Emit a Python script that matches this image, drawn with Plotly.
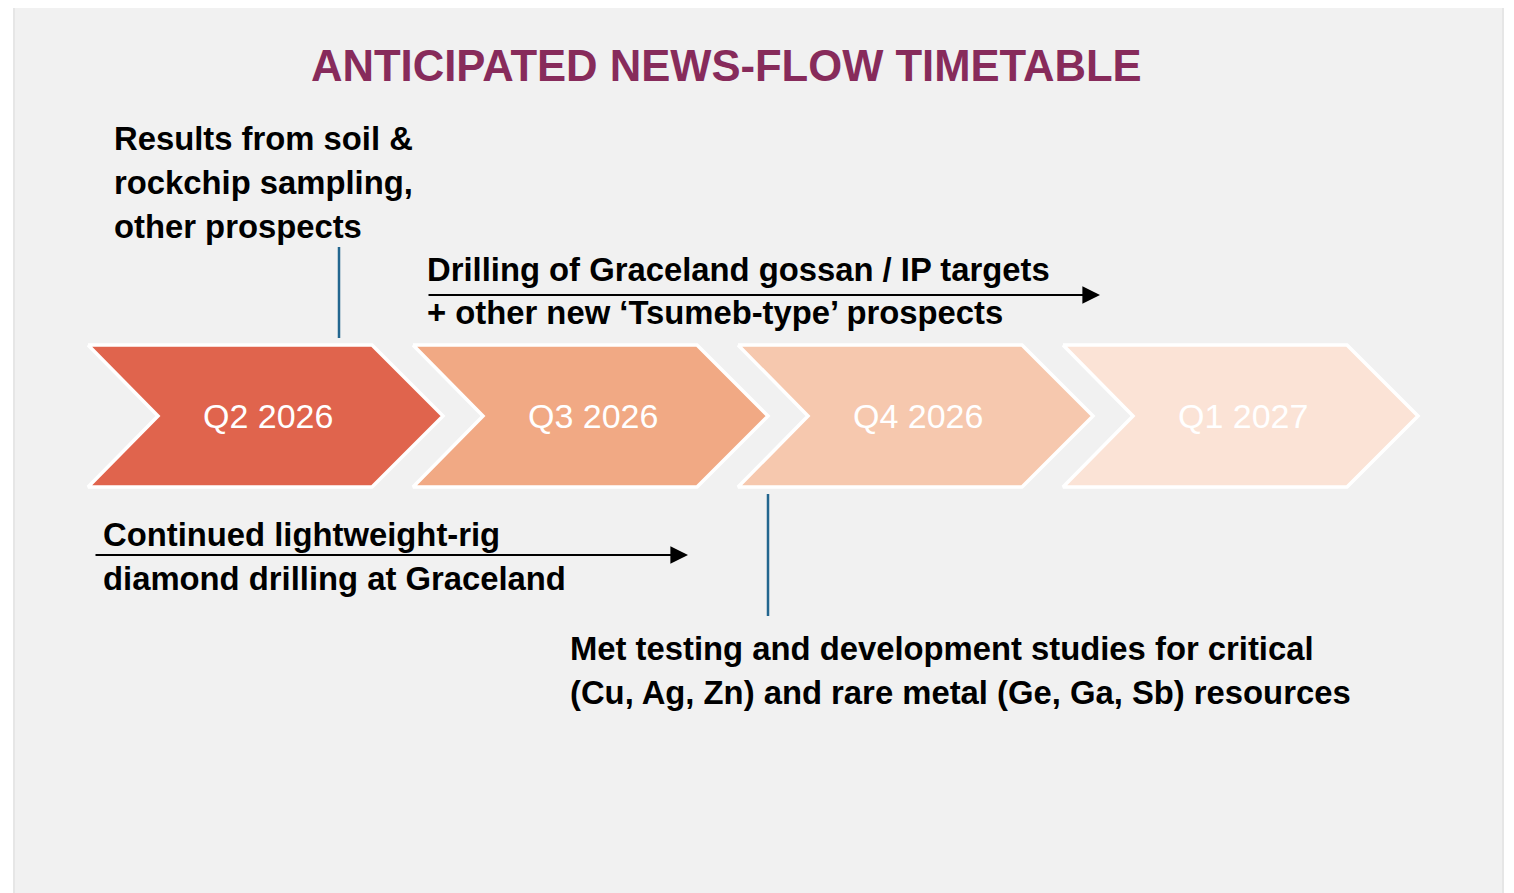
import plotly.graph_objects as go

# ---- data ----
quarters = ["Q2 2026", "Q3 2026", "Q4 2026", "Q1 2027"]
quarter_colors = ["#E0644D", "#F1A984", "#F6C8AE", "#FBE3D6"]
title_text = "ANTICIPATED NEWS-FLOW TIMETABLE"

note_top_left = ["Results from soil &", "rockchip sampling,", "other prospects"]
note_top_right = ["Drilling of Graceland gossan / IP targets", "+ other new \u2018Tsumeb-type\u2019 prospects"]
note_bottom_left = ["Continued lightweight-rig", "diamond drilling at Graceland"]
note_bottom_right = ["Met testing and development studies for critical",
                     "(Cu, Ag, Zn) and rare metal (Ge, Ga, Sb) resources"]

W, H = 1514, 893
OFF = 8  # page body margin
fig = go.Figure()

# panel background
fig.add_shape(type="rect", xref="x", yref="y", x0=14, x1=1503, y0=4, y1=898,
              fillcolor="#F1F1F1", line=dict(color="#E6E6E6", width=2), layer="below")

# chevrons
left0, step = 88, 325
top, bot, mid = 345, 487, 416
for i, (q, c) in enumerate(zip(quarters, quarter_colors)):
    L = left0 + i * step
    xs = [L, L + 284, L + 355, L + 284, L, L + 70, L]
    ys = [top, top, mid, bot, bot, mid, top]
    fig.add_trace(go.Scatter(x=xs, y=ys, mode="lines", fill="toself", fillcolor=c,
                             line=dict(color="white", width=3.5), hoverinfo="skip",
                             showlegend=False))
    fig.add_annotation(x=L + 180, y=mid, text=q, showarrow=False, xanchor="center",
                       yanchor="middle",
                       font=dict(family="Liberation Sans, Arial", size=34, color="white"))

# title
fig.add_annotation(x=726, y=66, text="<b>" + title_text + "</b>", showarrow=False,
                   xanchor="center", yanchor="middle",
                   font=dict(family="Liberation Sans, Arial", size=43.6, color="#872B5B"))

note_font = dict(family="Liberation Sans, Arial", size=32.8, color="black")


def add_lines(lines, x, y0, dy):
    for k, t in enumerate(lines):
        fig.add_annotation(x=x, y=y0 + k * dy, text="<b>" + t + "</b>", showarrow=False,
                           xanchor="left", yanchor="middle", font=note_font)


add_lines(note_top_left, 112, 138, 44)
add_lines(note_top_right, 425, 269, 43)
add_lines(note_bottom_left, 101, 534, 44)
add_lines(note_bottom_right, 568, 648, 44)

# blue connector lines
fig.add_shape(type="line", x0=339, x1=339, y0=247, y1=338, line=dict(color="#23668F", width=2.5))
fig.add_shape(type="line", x0=768, x1=768, y0=494, y1=616, line=dict(color="#23668F", width=2.5))

# arrows
for (xa, xb, yy) in [(427, 1100, 295), (94, 688, 555)]:
    fig.add_annotation(x=xb, y=yy, ax=xa, ay=yy, xref="x", yref="y", axref="x", ayref="y",
                       text="", showarrow=True, arrowhead=2, arrowsize=1.6, arrowwidth=2.2,
                       arrowcolor="black")

fig.update_xaxes(range=[OFF, W], visible=False, fixedrange=True)
fig.update_yaxes(range=[H, OFF], visible=False, fixedrange=True)
fig.update_layout(width=W - OFF, height=H - OFF, margin=dict(l=0, r=0, t=0, b=0),
                  paper_bgcolor="white", plot_bgcolor="white", showlegend=False)

fig.write_html("out.html", config={"displayModeBar": False})
